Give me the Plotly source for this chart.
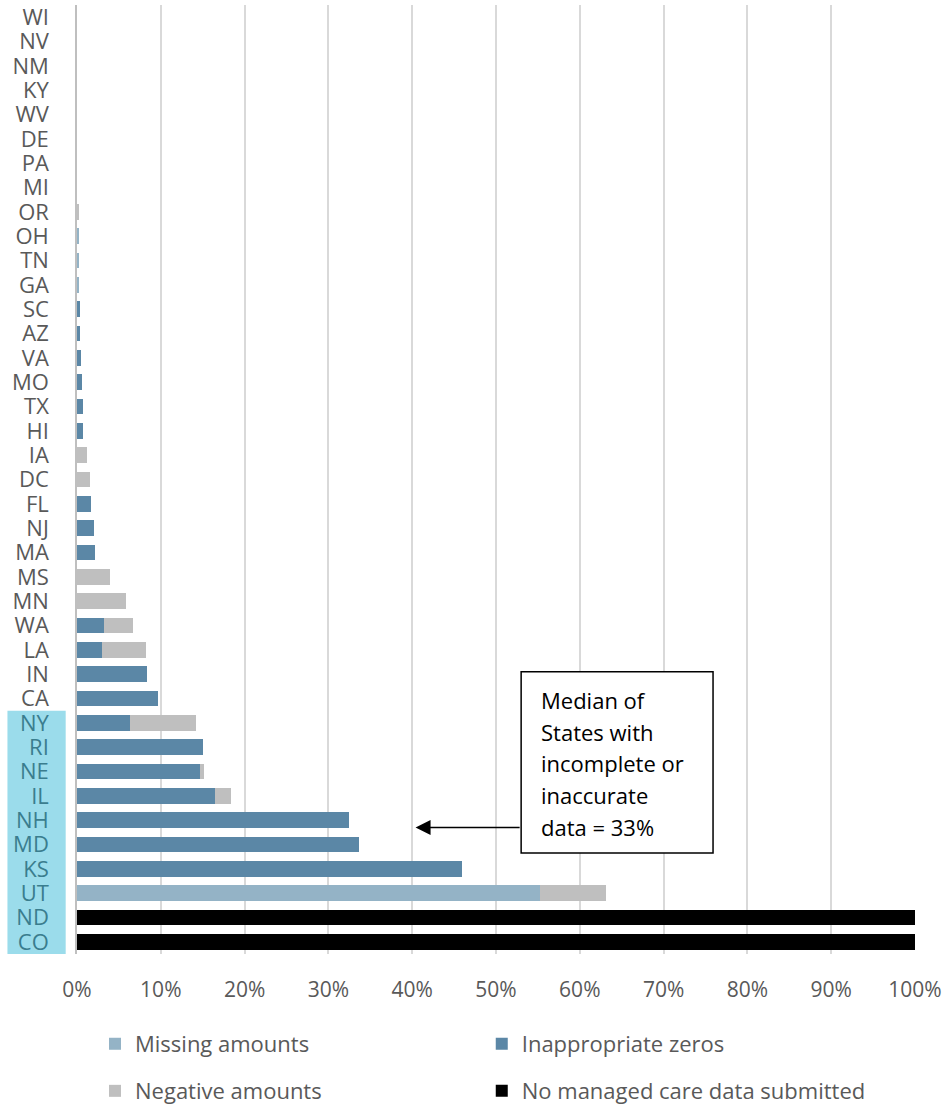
import plotly.graph_objects as go

states = ["WI","NV","NM","KY","WV","DE","PA","MI","OR","OH","TN","GA","SC","AZ","VA",
          "MO","TX","HI","IA","DC","FL","NJ","MA","MS","MN","WA","LA","IN","CA","NY",
          "RI","NE","IL","NH","MD","KS","UT","ND","CO"]
highlighted = ["NY","RI","NE","IL","NH","MD","KS","UT","ND","CO"]

missing = {"OH":0.2,"TN":0.2,"GA":0.2,"UT":55.3}
inappropriate = {"SC":0.3,"AZ":0.4,"VA":0.45,"MO":0.55,"TX":0.7,"HI":0.7,"FL":1.7,"NJ":2.0,
                 "MA":2.15,"WA":3.2,"LA":3.0,"IN":8.3,"CA":9.7,"NY":6.3,"RI":15.0,"NE":14.7,
                 "IL":16.5,"NH":32.5,"MD":33.6,"KS":45.9}
negative = {"OR":0.2,"IA":1.2,"DC":1.6,"MS":3.9,"MN":5.9,"WA":3.45,"LA":5.25,"NY":7.9,
            "NE":0.4,"IL":1.9,"UT":7.8}
nodata = {"ND":100,"CO":100}

x_ticks = list(range(0, 101, 10))
x_ticktext = [f"{v}%" for v in x_ticks]

annotation_lines = ["Median of", "States with", "incomplete or", "inaccurate", "data = 33%"]

FONT = "Open Sans"
GRAY = "#595959"

series = [
    ("Missing amounts", missing, "#94B3C6", "legend", 0.0215, -0.0948),
    ("Inappropriate zeros", inappropriate, "#5B87A6", "legend2", 0.483, -0.0948),
    ("Negative amounts", negative, "#BFBFBF", "legend3", 0.0215, -0.1444),
    ("No managed care data submitted", nodata, "#000000", "legend4", 0.483, -0.1444),
]

fig = go.Figure()
legends = {}
for name, d, color, lg, lx, ly in series:
    fig.add_trace(go.Bar(
        y=states, x=[d.get(s, 0) for s in states], orientation="h", name=name,
        marker=dict(color=color, line=dict(width=0)), legend=lg, showlegend=True,
    ))
    legends[lg] = dict(orientation="h", x=lx, xanchor="left", y=ly, yanchor="middle",
                       font=dict(family=FONT, size=22, color=GRAY), itemclick=False,
                       itemwidth=30, bgcolor="rgba(0,0,0,0)")

ticktext = [f"<span style='color:#3A7D8E'>{s}</span>" if s in highlighted else s for s in states]

# highlight band behind labels
i0 = states.index(highlighted[0]) - 0.5
i1 = states.index(highlighted[-1]) + 0.5
fig.add_shape(type="rect", xref="paper", yref="y", x0=-0.083, x1=-0.0135, y0=i0, y1=i1,
              fillcolor="#9BDCEB", line=dict(width=0), layer="below")

# annotation box
bx0, bx1 = 53.0, 75.9
fig.add_shape(type="rect", xref="x", yref="y", x0=bx0, x1=bx1, y0=26.9, y1=34.35,
              line=dict(color="#000000", width=1.5), fillcolor="white", layer="above")
for k, line in enumerate(annotation_lines):
    fig.add_annotation(x=bx0 + 2.1, y=28.05 + k * 1.31, xref="x", yref="y", text=line,
                       showarrow=False, xanchor="left", yanchor="middle",
                       font=dict(family=FONT, size=22, color="#000000"))
fig.add_annotation(x=40.4, y=33.3, xref="x", yref="y", ax=bx0, ay=33.3, axref="x", ayref="y",
                   text="", showarrow=True, arrowhead=2, arrowsize=2.0, arrowwidth=1.5,
                   arrowcolor="#000000")

fig.update_layout(
    barmode="stack", bargap=0.355,
    width=948, height=1107,
    margin=dict(l=76.5, r=33, t=5, b=153, autoexpand=False),
    paper_bgcolor="white", plot_bgcolor="white",
    font=dict(family=FONT, size=22, color=GRAY),
    xaxis=dict(range=[0, 100], tickvals=x_ticks, ticktext=x_ticktext, showgrid=True,
               gridcolor="#D9D9D9", gridwidth=1.5, zeroline=False, showline=False,
               ticklabelstandoff=21, tickfont=dict(size=21, color=GRAY), fixedrange=True),
    yaxis=dict(categoryorder="array", categoryarray=states, autorange="reversed",
               tickvals=states, ticktext=ticktext, showline=True, linecolor="#BFBFBF",
               linewidth=1.5, showgrid=False, ticklabelstandoff=22,
               tickfont=dict(size=22, color=GRAY), fixedrange=True),
    **legends,
)

fig.write_html("out.html")
